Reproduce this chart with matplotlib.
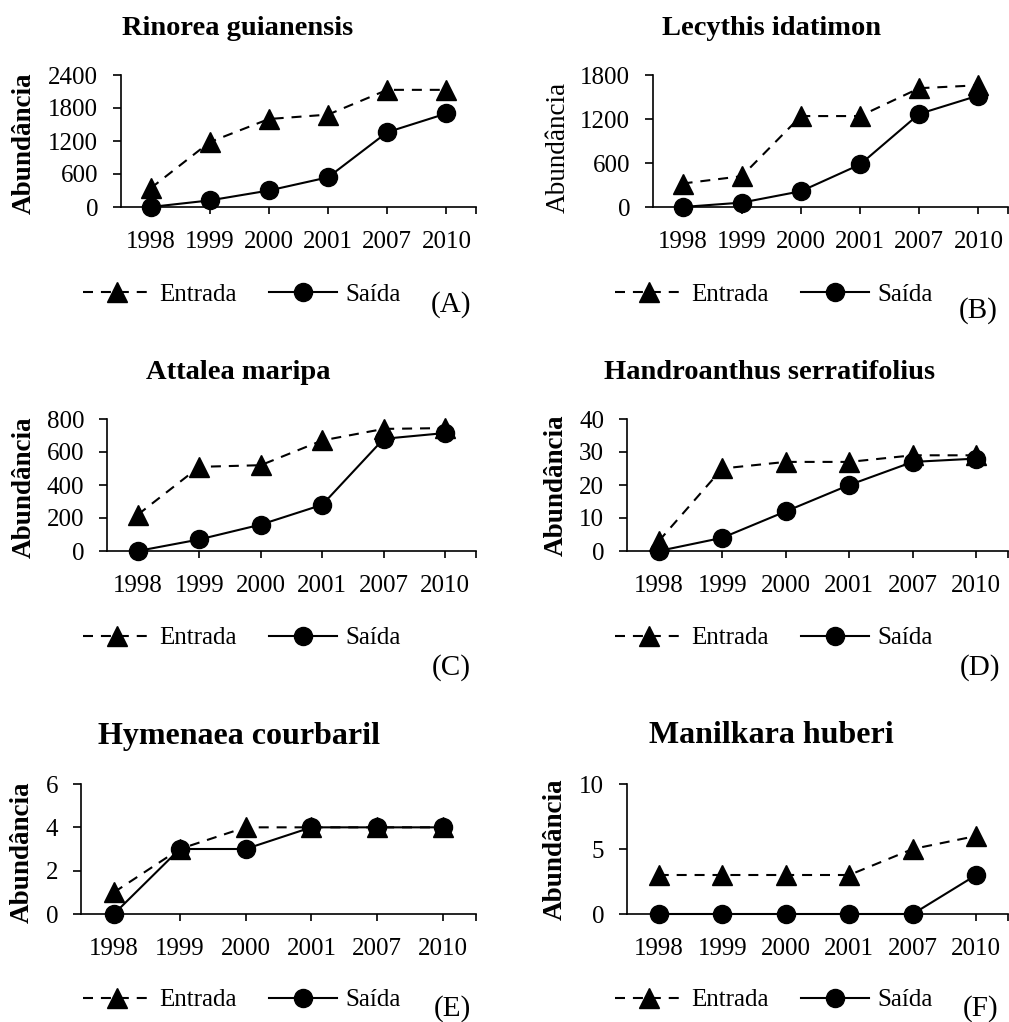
import matplotlib
matplotlib.use('Agg')
import matplotlib.pyplot as plt
from matplotlib.lines import Line2D

plt.rcParams['font.family'] = ['Liberation Serif', 'DejaVu Serif']

W, H = 1009, 1022

anos = ['1998', '1999', '2000', '2001', '2007', '2010']

especies = ['Rinorea guianensis', 'Lecythis idatimon', 'Attalea maripa',
            'Handroanthus serratifolius', 'Hymenaea courbaril', 'Manilkara huberi']
letras = ['(A)', '(B)', '(C)', '(D)', '(E)', '(F)']

entrada_a = [340, 1180, 1600, 1680, 2130, 2130]
saida_a = [0, 120, 300, 540, 1360, 1700]
entrada_b = [320, 420, 1240, 1240, 1620, 1660]
saida_b = [0, 60, 215, 580, 1270, 1520]
entrada_c = [220, 510, 520, 670, 740, 745]
saida_c = [0, 70, 160, 280, 680, 715]
entrada_d = [3, 25, 27, 27, 29, 29]
saida_d = [0, 4, 12, 20, 27, 28]
entrada_e = [1, 3, 4, 4, 4, 4]
saida_e = [0, 3, 3, 4, 4, 4]
entrada_f = [3, 3, 3, 3, 5, 6]
saida_f = [0, 0, 0, 0, 0, 3]

entradas = [entrada_a, entrada_b, entrada_c, entrada_d, entrada_e, entrada_f]
saidas = [saida_a, saida_b, saida_c, saida_d, saida_e, saida_f]
yticks = [[0, 600, 1200, 1800, 2400], [0, 600, 1200, 1800], [0, 200, 400, 600, 800],
          [0, 10, 20, 30, 40], [0, 2, 4, 6], [0, 5, 10]]


def fx(x):
    return x / W


def fy(y):
    return 1 - y / H


# layout in pixels: eixos (esq, dir, topo, base), titulo (cx, base), rotulo y (cx, cy),
# legenda (x0, cy), letra (cx, base)
caixas = [(121, 476, 75, 207), (653, 1008, 75, 207),
          (107, 476, 419, 551), (627, 1008, 419, 551),
          (81, 476, 784, 914), (627, 1008, 784, 914)]
pos_titulo = [(238, 35), (772, 35), (238, 379), (770, 379), (239, 744), (771, 743)]
tam_titulo = [20.5, 20.5, 20.5, 20.5, 23, 23]
pos_ylabel = [(24, 143), (558, 147), (24, 487), (556, 485), (22, 852), (555, 849)]
negrito_ylabel = [True, False, True, True, True, True]
pos_legenda = [(83, 295), (615, 295), (83, 638), (615, 638), (83, 1000), (615, 1000)]
pos_letra = [(451, 312), (978, 318), (451, 675), (980, 675), (452, 1016), (981, 1016)]

fig = plt.figure(figsize=(W / 100, H / 100), dpi=100)

tracejado = (0, (4.8, 3.8))

for i in range(6):
    l, r, t, b = caixas[i]
    ax = fig.add_axes([fx(l), fy(b), (r - l) / W, (b - t) / H])
    x = list(range(len(anos)))

    ax.plot(x, entradas[i], color='black', linestyle=tracejado, linewidth=1.5,
            marker='^', markersize=14.5, clip_on=False, zorder=3)
    ax.plot(x, saidas[i], color='black', linestyle='-', linewidth=1.5,
            marker='o', markersize=13, clip_on=False, zorder=4)

    ax.set_xlim(-0.5, 5.5)
    ax.set_ylim(0, yticks[i][-1])
    ax.set_xticks(x)
    ax.set_xticklabels(anos)
    ax.set_xticks([5.5], minor=True)
    ax.set_yticks(yticks[i])
    ax.spines['top'].set_visible(False)
    ax.spines['right'].set_visible(False)
    ax.tick_params(axis='x', which='both', direction='out', length=5, width=1.2,
                   pad=12, labelsize=18)
    ax.tick_params(axis='y', direction='out', length=5.5, width=1.2, pad=11, labelsize=18)
    for s in ('left', 'bottom'):
        ax.spines[s].set_linewidth(1.2)
    ax.patch.set_visible(False)

    cx, by = pos_titulo[i]
    fig.text(fx(cx), fy(by), especies[i], ha='center', va='baseline',
             fontsize=tam_titulo[i], fontweight='bold')

    yx, yy = pos_ylabel[i]
    fig.text(fx(yx), fy(yy), 'Abundância', rotation=90, ha='center', va='center',
             fontsize=19.5, fontweight='bold' if negrito_ylabel[i] else 'normal')

    handles = [Line2D([], [], color='black', linestyle=tracejado, linewidth=1.5,
                      marker='^', markersize=14.5),
               Line2D([], [], color='black', linestyle='-', linewidth=1.5,
                      marker='o', markersize=13)]
    lx, ly = pos_legenda[i]
    ax.legend(handles, ['Entrada', 'Saída'], loc='center left',
              bbox_to_anchor=(fx(lx), fy(ly)), bbox_transform=fig.transFigure,
              ncol=2, frameon=False, handlelength=2.7, handletextpad=0.35,
              columnspacing=1.3, borderpad=0, borderaxespad=0, fontsize=18,
              numpoints=1)

    tx, ty = pos_letra[i]
    fig.text(fx(tx), fy(ty), letras[i], ha='center', va='baseline', fontsize=21)

fig.savefig('out.png', dpi=100)
